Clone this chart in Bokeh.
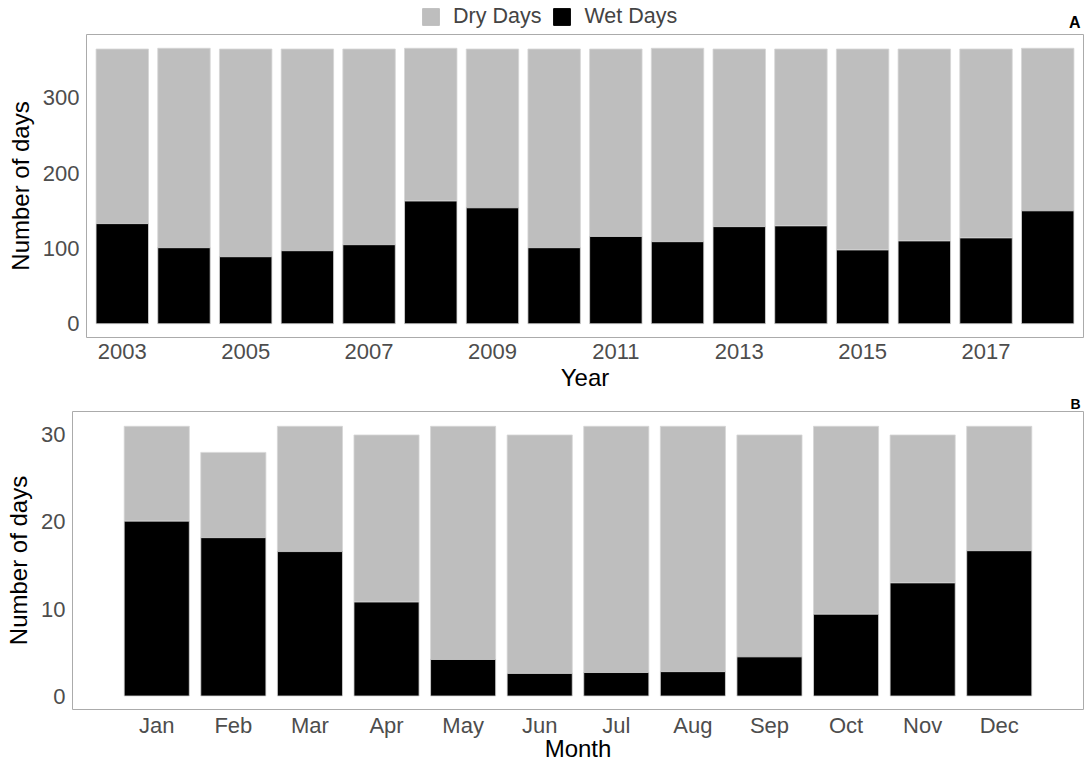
from bokeh.plotting import figure
from bokeh.models import (Range1d, FactorRange, FixedTicker, Legend, LegendItem,
                          Title, Label, ColumnDataSource)
from bokeh.layouts import column, row
from bokeh.embed import file_html
from bokeh.resources import INLINE

# ---------------- data ----------------
years = [2003, 2004, 2005, 2006, 2007, 2008, 2009, 2010,
         2011, 2012, 2013, 2014, 2015, 2016, 2017, 2018]
year_total = [365, 366, 365, 365, 365, 366, 365, 365,
              365, 366, 365, 365, 365, 365, 365, 366]
year_wet = [133, 101, 89, 97, 105, 163, 154, 101,
            116, 109, 129, 130, 98, 110, 114, 150]

months = ["Jan", "Feb", "Mar", "Apr", "May", "Jun",
          "Jul", "Aug", "Sep", "Oct", "Nov", "Dec"]
month_total = [31, 28, 31, 30, 31, 30, 31, 31, 30, 31, 30, 31]
month_wet = [20.1, 18.2, 16.6, 10.8, 4.2, 2.6, 2.7, 2.8, 4.5, 9.4, 13.0, 16.7]

year_ticks = [2003, 2005, 2007, 2009, 2011, 2013, 2015, 2017]
year_yticks = [0, 100, 200, 300]
month_yticks = [0, 10, 20, 30]
series_labels = ["Dry Days", "Wet Days"]

DRY = "#BEBEBE"
WET = "#000000"
EDGE = "#D6D6D6"
FONT = "Liberation Sans"
TICK_COL = "#4D4D4D"
FRAME_COL = "#ABABAB"
W = 1084
NAN = float("nan")


def style(p):
    p.outline_line_color = FRAME_COL
    p.outline_line_width = 1
    p.xgrid.grid_line_color = None
    p.ygrid.grid_line_color = None
    for ax in (p.xaxis, p.yaxis):
        ax.axis_line_color = None
        ax.major_tick_line_color = None
        ax.minor_tick_line_color = None
        ax.major_tick_out = 0
        ax.major_tick_in = 0
        ax.major_label_text_font = FONT
        ax.major_label_text_font_size = "22px"
        ax.major_label_text_color = TICK_COL
        ax.axis_label_text_font = FONT
        ax.axis_label_text_font_size = "24px"
        ax.axis_label_text_font_style = "normal"
        ax.axis_label_text_color = "#000000"
    p.xaxis.major_label_standoff = 6
    p.yaxis.major_label_standoff = 7
    p.xaxis.axis_label_standoff = 2
    p.yaxis.axis_label_standoff = 6
    p.background_fill_color = "white"
    p.border_fill_color = "white"


# ---------------- header: legend + panel letter A ----------------
hdr = figure(width=W, height=33, output_backend="svg", toolbar_location=None,
             x_range=Range1d(0, W), y_range=Range1d(0, 33),
             min_border=0, min_border_left=0, min_border_right=0,
             min_border_top=0, min_border_bottom=0)
hdr.axis.visible = False
hdr.grid.grid_line_color = None
hdr.outline_line_color = None
swatch = ColumnDataSource(dict(x=[NAN], top=[NAN]))
h_dry = hdr.vbar(x="x", top="top", width=1, source=swatch,
                 fill_color=DRY, line_color=DRY)
h_wet = hdr.vbar(x="x", top="top", width=1, source=swatch,
                 fill_color=WET, line_color=WET)
legend = Legend(items=[LegendItem(label=series_labels[0], renderers=[h_dry]),
                       LegendItem(label=series_labels[1], renderers=[h_wet])],
                orientation="horizontal", location=(420, 4),
                label_text_font=FONT, label_text_font_size="21.5px",
                glyph_width=21, glyph_height=21, label_standoff=12, spacing=10,
                padding=2, margin=0, border_line_color=None,
                background_fill_alpha=0)
hdr.add_layout(legend)
hdr.add_layout(Label(x=1080, y=11, text="A", text_align="right",
                     text_baseline="middle", text_font=FONT,
                     text_font_size="16px", text_font_style="bold",
                     text_color="black"))

# ---------------- panel A ----------------
src_a = ColumnDataSource(dict(x=years, total=year_total, wet=year_wet))
pa = figure(width=W, height=360, output_backend="svg", toolbar_location=None,
            x_range=Range1d(2002.42, 2018.58), y_range=Range1d(-18.3, 384.3),
            min_border_left=86, min_border_right=1, min_border_top=1,
            min_border_bottom=54)
pa.vbar(x="x", top="total", bottom="wet", width=0.85, source=src_a,
        fill_color=DRY, line_color=EDGE, line_width=0.8)
pa.vbar(x="x", top="wet", bottom=0, width=0.85, source=src_a,
        fill_color=WET, line_color=EDGE, line_width=0.8)
style(pa)
pa.xaxis.ticker = FixedTicker(ticks=year_ticks)
pa.yaxis.ticker = FixedTicker(ticks=year_yticks)
pa.xaxis.axis_label = "Year"
pa.yaxis.axis_label = "Number of days"

# ---------------- panel B ----------------
src_b = ColumnDataSource(dict(x=months, total=month_total, wet=month_wet))
pb = figure(width=W, height=371, output_backend="svg", toolbar_location=None,
            x_range=FactorRange(factors=months, range_padding=0.1,
                                range_padding_units="percent"),
            y_range=Range1d(-1.55, 32.7),
            min_border_left=72, min_border_right=1, min_border_top=10,
            min_border_bottom=54)
pb.vbar(x="x", top="total", bottom="wet", width=0.85, source=src_b,
        fill_color=DRY, line_color=EDGE, line_width=0.8)
pb.vbar(x="x", top="wet", bottom=0, width=0.85, source=src_b,
        fill_color=WET, line_color=EDGE, line_width=0.8)
style(pb)
pb.xaxis.major_label_standoff = 3
pb.xaxis.axis_label_standoff = -6
pb.yaxis.ticker = FixedTicker(ticks=month_yticks)
pb.xaxis.axis_label = "Month"
pb.yaxis.axis_label = "Number of days"
pb.add_layout(Title(text="B", align="right", offset=3, standoff=0,
                    text_font=FONT, text_font_size="14px",
                    text_line_height=0.9,
                    text_font_style="bold", text_color="black"), "above")

layout = column(row(hdr), row(pa), row(pb), spacing=0)
open("out.html", "w").write(file_html(layout, INLINE))
